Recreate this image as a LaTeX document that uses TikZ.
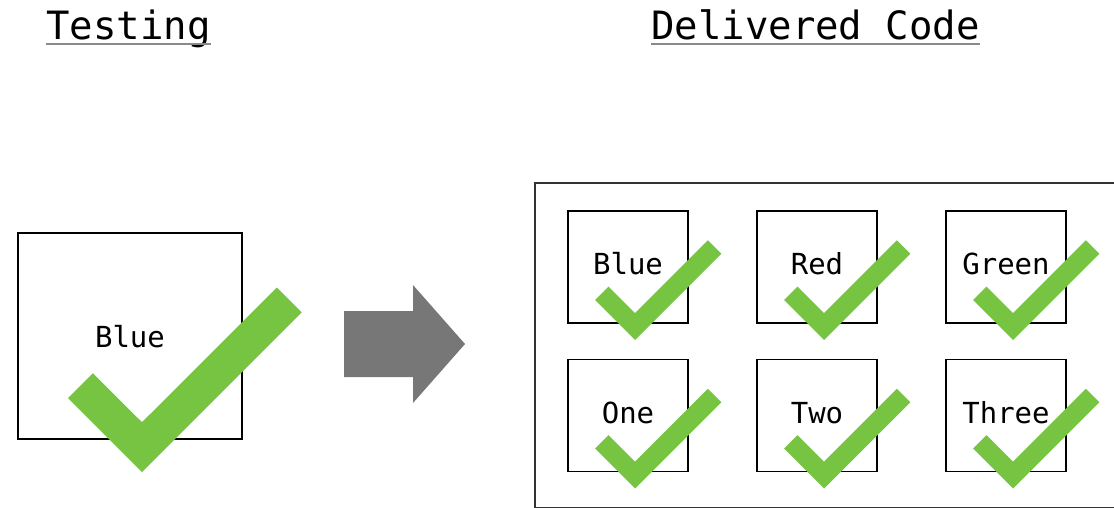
\documentclass[tikz,border=0pt]{standalone}
\usepackage{fontspec}
\setmonofont{DejaVu Sans Mono}
\definecolor{chk}{HTML}{76C442}
\definecolor{arr}{HTML}{777777}
\definecolor{framecol}{HTML}{333333}
\definecolor{ulcol}{HTML}{8A8A8A}
\begin{document}
\begin{tikzpicture}[x=1pt,y=-1pt,
  box/.style={draw=black, line width=1.5pt, minimum width=120pt, minimum height=112pt, inner sep=0pt,
    font=\fontsize{29}{29}\selectfont\ttfamily, text height=22.6pt, text depth=6.7pt},
  bigbox/.style={box, minimum width=224pt, minimum height=206pt, text height=25pt, text depth=3pt},
  title/.style={font=\fontsize{39}{39}\selectfont\ttfamily, inner sep=0pt, anchor=base},
  uline/.style={draw=ulcol, line width=2.2pt},
  check/.pic={\fill[chk] (0,0) -- (-40,-40) -- (-26.6,-53.4) -- (0,-26.9) -- (72.9,-99.7) -- (86.3,-86.3) -- cycle;}
]
\useasboundingbox (0,0) rectangle (1114,508);
\clip (0,0) rectangle (1114,508);

% titles
\node[title] (t1) at (128.5,40) {Testing};
\node[title] (t2) at (815.5,40) {Delivered Code};
\draw[uline] ([yshift=-4pt]t1.base west) -- ([yshift=-4pt]t1.base east);
\draw[uline] ([yshift=-4pt]t2.base west) -- ([yshift=-4pt]t2.base east);

% testing box
\node[bigbox] (big) at (130,336) {Blue};

% arrow
\fill[arr] (344,311) -- (413,311) -- (413,285) -- (465,344) -- (413,403) -- (413,377) -- (344,377) -- cycle;

% delivered frame
\node[draw=framecol, line width=1.6pt, minimum width=606pt, minimum height=325pt, inner sep=0pt, anchor=north west] (outer) at (534,182) {};

\node[box] (b1) at (628,267) {Blue};
\node[box] (b2) at (817,267) {Red};
\node[box] (b3) at (1006,267) {Green};
\node[box] (b4) at (628,415.5) {One};
\node[box] (b5) at (817,415.5) {Two};
\node[box] (b6) at (1006,415.5) {Three};

% checks
\path (big.center) ++(12,136) pic[scale=1.85] {check};
\foreach \b in {b1,b2,b3,b4,b5,b6}{
  \path (\b.center) ++(7,73) pic {check};
}
\end{tikzpicture}
\end{document}
